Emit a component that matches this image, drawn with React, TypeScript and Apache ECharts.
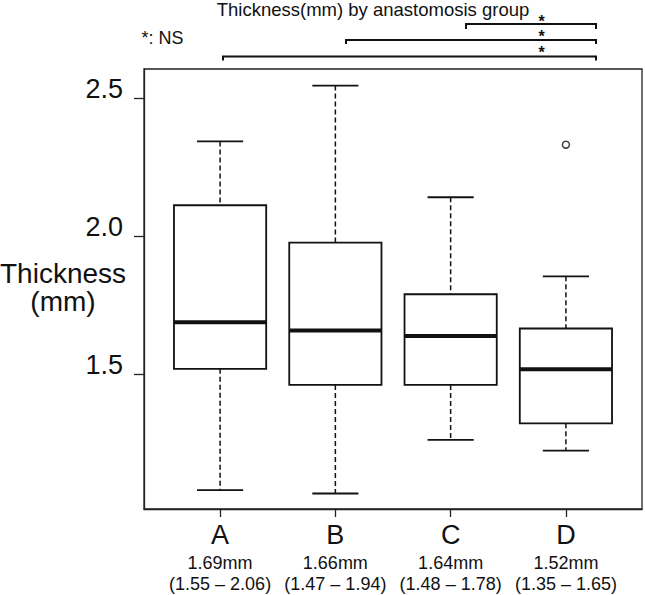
import React, { useEffect, useRef } from "react";
import * as echarts from "echarts";

// Groups and their box-and-whisker statistics (mm)
const categories = ["A", "B", "C", "D"];
const whiskerLow = [1.082, 1.07, 1.264, 1.225];
const hingeLow = [1.521, 1.463, 1.463, 1.324];
const medians = [1.69, 1.66, 1.64, 1.52];
const hingeHigh = [2.113, 1.978, 1.791, 1.667];
const whiskerHigh = [2.344, 2.546, 2.142, 1.856];
// Quartile range printed under each group
const iqrLow = [1.55, 1.47, 1.48, 1.35];
const iqrHigh = [2.06, 1.94, 1.78, 1.65];
// Outlying observations: [group position, value]
const outliers = [[4, 2.332]];

const yTicks = [1.5, 2.0, 2.5];
const yMin = 1.014;
const yMax = 2.606;

const FONT = "'Liberation Sans', Arial, Helvetica, sans-serif";
const INK = "#111";

export default function App() {
  const ref = useRef<HTMLDivElement>(null);

  useEffect(() => {
    if (!ref.current) return;
    const chart = echarts.init(ref.current, null, { renderer: "svg" });

    const boxData = categories.map((_, i) => [
      i + 1,
      whiskerLow[i],
      hingeLow[i],
      medians[i],
      hingeHigh[i],
      whiskerHigh[i],
    ]);

    const renderBox = (params: any, api: any) => {
      const x = api.value(0);
      const lo = api.coord([x, api.value(1)]);
      const q1 = api.coord([x, api.value(2)]);
      const med = api.coord([x, api.value(3)]);
      const q3 = api.coord([x, api.value(4)]);
      const hi = api.coord([x, api.value(5)]);
      const boxW = api.size([0.8, 0])[0];
      const capHalf = boxW / 4;
      const cx = med[0];
      const dash = { stroke: INK, lineWidth: 1.5, lineDash: [5, 3] };
      const solid = { stroke: INK, lineWidth: 1.8 };
      return {
        type: "group",
        children: [
          { type: "line", shape: { x1: cx, y1: hi[1], x2: cx, y2: q3[1] }, style: dash },
          { type: "line", shape: { x1: cx, y1: q1[1], x2: cx, y2: lo[1] }, style: dash },
          { type: "line", shape: { x1: cx - capHalf, y1: hi[1], x2: cx + capHalf, y2: hi[1] }, style: solid },
          { type: "line", shape: { x1: cx - capHalf, y1: lo[1], x2: cx + capHalf, y2: lo[1] }, style: solid },
          {
            type: "rect",
            shape: { x: cx - boxW / 2, y: q3[1], width: boxW, height: q1[1] - q3[1] },
            style: { fill: "#fff", stroke: INK, lineWidth: 1.8 },
          },
          {
            type: "line",
            shape: { x1: cx - boxW / 2, y1: med[1], x2: cx + boxW / 2, y2: med[1] },
            style: { stroke: INK, lineWidth: 4 },
          },
        ],
      };
    };

    // Significance brackets above the plot
    const bracket = (x1: number, x2: number, y: number, drop: number) => ({
      type: "polyline",
      shape: { points: [[x1, y + drop], [x1, y], [x2, y], [x2, y + drop]] },
      style: { stroke: INK, lineWidth: 2, fill: null },
    });
    const star = (y: number) => ({
      type: "text",
      x: 541.5,
      y,
      style: {
        text: "*",
        font: `bold 16px ${FONT}`,
        lineHeight: 12,
        fill: INK,
        align: "center",
        verticalAlign: "middle",
      },
    });

    chart.setOption({
      animation: false,
      backgroundColor: "#fff",
      textStyle: { fontFamily: FONT },
      grid: {
        left: 144,
        right: 3,
        top: 69,
        bottom: 86,
        show: true,
        borderColor: "#222",
        borderWidth: 1.3,
        containLabel: false,
      },
      xAxis: {
        type: "value",
        min: 0.34,
        max: 4.66,
        splitLine: { show: false },
        axisLine: { show: true, lineStyle: { color: "#222", width: 1.3 } },
        axisTick: {
          show: true,
          customValues: [1, 2, 3, 4],
          length: 8,
          lineStyle: { color: "#222", width: 1.3 },
        },
        axisLabel: {
          customValues: [1, 2, 3, 4],
          margin: 9,
          formatter: (v: number) => {
            const i = Math.round(v) - 1;
            return `{a|${categories[i]}}\n{b|${medians[i].toFixed(2)}mm}\n{b|(${iqrLow[i].toFixed(2)} – ${iqrHigh[i].toFixed(2)})}`;
          },
          rich: {
            a: { fontFamily: FONT, fontSize: 27, lineHeight: 34, color: INK },
            b: { fontFamily: FONT, fontSize: 18, lineHeight: 21, color: INK },
          },
        },
      },
      yAxis: {
        type: "value",
        min: yMin,
        max: yMax,
        splitLine: { show: false },
        axisLine: { show: true, lineStyle: { color: "#222", width: 1.3 } },
        axisTick: {
          show: true,
          customValues: yTicks,
          length: 10,
          lineStyle: { color: "#222", width: 1.3 },
        },
        axisLabel: {
          customValues: yTicks,
          formatter: (v: number) => v.toFixed(1),
          fontFamily: FONT,
          fontSize: 27,
          color: INK,
          margin: 21,
          verticalAlign: "bottom",
          lineHeight: 19,
        },
      },
      series: [
        {
          type: "custom",
          renderItem: renderBox,
          encode: { x: 0, y: [1, 2, 3, 4, 5] },
          data: boxData,
          z: 2,
        },
        {
          type: "scatter",
          data: outliers,
          symbol: "circle",
          symbolSize: 7,
          itemStyle: { color: "#fff", borderColor: INK, borderWidth: 1.5 },
          z: 3,
        },
      ],
      graphic: [
        {
          type: "text",
          x: 373,
          y: 9,
          style: {
            text: "Thickness(mm) by anastomosis group",
            font: `18.5px ${FONT}`,
            lineHeight: 17,
            fill: INK,
            align: "center",
            verticalAlign: "middle",
          },
        },
        {
          type: "text",
          x: 141.5,
          y: 37.7,
          style: {
            text: "*: NS",
            font: `18px ${FONT}`,
            fill: INK,
            align: "left",
            verticalAlign: "middle",
          },
        },
        {
          type: "text",
          x: 63,
          y: 287.6,
          style: {
            text: "Thickness\n(mm)",
            font: `28px ${FONT}`,
            lineHeight: 28,
            fill: INK,
            align: "center",
            verticalAlign: "middle",
          },
        },
        bracket(466, 596, 24, 5),
        bracket(346, 596, 40, 4),
        bracket(223, 596, 56.5, 4),
        star(21),
        star(36.3),
        star(52.6),
      ],
    });

    return () => chart.dispose();
  }, []);

  return (
    <div
      ref={ref}
      style={{ position: "fixed", left: 0, top: 0, width: 645, height: 595 }}
    />
  );
}
